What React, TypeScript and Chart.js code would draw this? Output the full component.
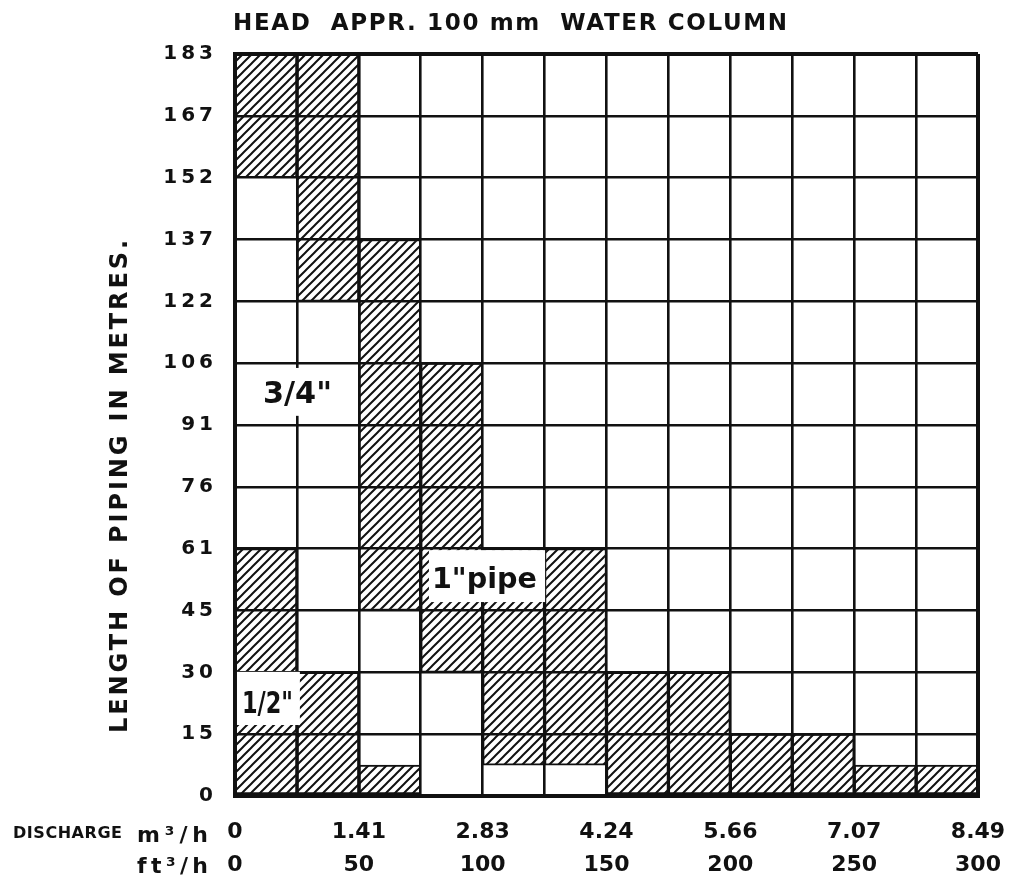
import React, { useEffect, useRef } from 'react';
import { Chart, registerables } from 'chart.js';

Chart.register(...registerables);

// ---- data ----
// Discharge columns in ft³/h (each column = 25 ft³/h)
const columnEdgesFt3 = [0, 25, 50, 75, 100, 125, 150, 175, 200, 225, 250, 275, 300];
const dischargeFt3Ticks = [0, 50, 100, 150, 200, 250, 300];
const dischargeFt3Labels = ['0', '50', '100', '150', '200', '250', '300'];
const dischargeM3Labels = ['0', '1.41', '2.83', '4.24', '5.66', '7.07', '8.49'];

// Length of piping (metres), grid every 50 ft = 15.24 m
const lengthTicksM = [0, 15.24, 30.48, 45.72, 60.96, 76.2, 91.44, 106.68, 121.92, 137.16, 152.4, 167.64, 182.88];
const lengthTickLabels = ['0', '15', '30', '45', '61', '76', '91', '106', '122', '137', '152', '167', '183'];

// Hatched bands per discharge column: [from m, to m]
const lowerHatchM: [number, number][] = [
  [0, 60.96],
  [0, 30.48],
  [0, 7.62],
  [30.48, 106.68],
  [7.62, 60.96],
  [7.62, 60.96],
  [0, 30.48],
  [0, 30.48],
  [0, 15.24],
  [0, 15.24],
  [0, 7.62],
  [0, 7.62],
];
const upperHatchM: ([number, number] | null)[] = [
  [152.4, 182.88],
  [121.92, 182.88],
  [45.72, 137.16],
  null, null, null, null, null, null, null, null, null,
];

// Pipe size labels (data coordinates)
const pipeSizeLabels = [
  { text: '3/4"', flowFt3: 25.2, lengthM: 99.7, boxFt3: [3.2, 48.9], boxM: [93.7, 105.5], size: 31, width: 69 },
  { text: '1"pipe', flowFt3: 100.7, lengthM: 53.9, boxFt3: [78.3, 125.2], boxM: [47.8, 60.6], size: 29, width: 105 },
  { text: '1/2"', flowFt3: 13.1, lengthM: 23.3, boxFt3: [0.8, 26.2], boxM: [17.5, 30.6], size: 31, width: 51 },
];

const chartTitle = 'HEAD  APPR. 100 mm  WATER COLUMN';
const yAxisTitle = 'LENGTH OF PIPING IN METRES.';

const INK = '#111';
const FONT = "'DejaVu Sans', sans-serif";

function makeHatch(): CanvasPattern | string {
  const s = 9;
  const c = document.createElement('canvas');
  c.width = s;
  c.height = s;
  const g = c.getContext('2d');
  if (!g) return '#888';
  g.fillStyle = '#fff';
  g.fillRect(0, 0, s, s);
  g.strokeStyle = INK;
  g.lineWidth = 2;
  g.beginPath();
  g.moveTo(-1, s + 1);
  g.lineTo(s + 1, -1);
  g.moveTo(-2, 2);
  g.lineTo(2, -2);
  g.moveTo(s - 2, s + 2);
  g.lineTo(s + 2, s - 2);
  g.stroke();
  return g.createPattern(c, 'repeat') || '#888';
}

function drawFitted(
  ctx: CanvasRenderingContext2D,
  text: string,
  x: number,
  capMidY: number,
  width: number,
  size: number,
  weight: string,
  align: 'left' | 'center' | 'right'
) {
  ctx.save();
  ctx.font = `${weight} ${size}px ${FONT}`;
  ctx.fillStyle = INK;
  ctx.textAlign = 'left';
  ctx.textBaseline = 'alphabetic';
  const a = ctx as any;
  const hasLS = 'letterSpacing' in a;
  if (hasLS) a.letterSpacing = '0px';
  const w0 = ctx.measureText(text).width;
  const left = align === 'center' ? x - width / 2 : align === 'right' ? x - width : x;
  const baseline = capMidY + size * 0.3645;
  if (w0 < width) {
    if (hasLS && text.length > 1) {
      a.letterSpacing = `${(width - w0) / (text.length - 1)}px`;
      ctx.fillText(text, left, baseline);
    } else {
      ctx.fillText(text, left + (width - w0) / 2, baseline);
    }
  } else {
    ctx.fillText(text, left, baseline, width);
  }
  ctx.restore();
}

const textPlugin = {
  id: 'chartTexts',
  afterDraw(chart: any) {
    const { ctx } = chart;
    const xs = chart.scales.x;
    const ys = chart.scales.y;

    // pipe size labels with white backing
    pipeSizeLabels.forEach((l) => {
      const x0 = xs.getPixelForValue(l.boxFt3[0]);
      const x1 = xs.getPixelForValue(l.boxFt3[1]);
      const y0 = ys.getPixelForValue(l.boxM[1]);
      const y1 = ys.getPixelForValue(l.boxM[0]);
      ctx.save();
      ctx.fillStyle = '#fff';
      ctx.fillRect(x0, y0, x1 - x0, y1 - y0);
      ctx.restore();
      drawFitted(ctx, l.text, xs.getPixelForValue(l.flowFt3), ys.getPixelForValue(l.lengthM), l.width, l.size, 'bold', 'center');
    });

    // top title
    drawFitted(ctx, chartTitle, 233, 21.7, 554, 23, 'bold', 'left');

    // y axis title (rotated)
    ctx.save();
    ctx.translate(118, 486.5);
    ctx.rotate(-Math.PI / 2);
    drawFitted(ctx, yAxisTitle, 0, 0, 493, 24, 'bold', 'center');
    ctx.restore();

    // discharge legend at left of x ticks
    drawFitted(ctx, 'DISCHARGE', 13, 832.5, 109, 16, 'bold', 'left');
    drawFitted(ctx, 'm³/h', 208, 834, 71, 22, 'bold', 'right');
    drawFitted(ctx, 'ft³/h', 208, 865, 71, 22, 'bold', 'right');
  },
};

export default function App() {
  const ref = useRef<HTMLCanvasElement>(null);

  useEffect(() => {
    const canvas = ref.current;
    if (!canvas) return;
    Chart.defaults.font.family = FONT;
    Chart.defaults.color = INK;
    const hatch = makeHatch();

    const centres = columnEdgesFt3.slice(0, -1).map((e, i) => (e + columnEdgesFt3[i + 1]) / 2);
    const lowerData = lowerHatchM.map((r, i) => ({ x: centres[i], y: r }));
    const upperData = upperHatchM
      .map((r, i) => (r ? { x: centres[i], y: r } : null))
      .filter((d) => d !== null);

    const barStyle = {
      backgroundColor: hatch,
      borderColor: INK,
      borderWidth: 2,
      borderSkipped: false,
      barPercentage: 1,
      categoryPercentage: 1,
      grouped: false,
    };

    const lastX = columnEdgesFt3.length - 1;
    const lastY = lengthTicksM.length - 1;

    const chart = new Chart(canvas, {
      type: 'bar',
      data: {
        datasets: [
          { label: 'hatched (lower)', data: lowerData as any, ...barStyle } as any,
          { label: 'hatched (upper)', data: upperData as any, ...barStyle } as any,
        ],
      },
      options: {
        responsive: false,
        animation: false,
        layout: { padding: { top: 54, right: 31, bottom: 0, left: 0 } },
        plugins: {
          legend: { display: false },
          tooltip: { enabled: false },
          title: { display: false },
        },
        scales: {
          x: {
            type: 'linear',
            min: 0,
            max: 300,
            offset: false,
            afterBuildTicks: (s: any) => {
              s.ticks = columnEdgesFt3.map((v) => ({ value: v }));
            },
            afterFit: (s: any) => {
              s.height = 80;
              s.paddingLeft = 0;
              s.paddingRight = 0;
            },
            grid: {
              color: INK,
              lineWidth: (c: any) => (c.index === 0 || c.index === lastX ? 4 : 2.6),
              drawTicks: false,
              offset: false,
              z: 1,
            },
            border: { display: true, color: INK, width: 4, z: 1 },
            ticks: {
              autoSkip: false,
              maxRotation: 0,
              minRotation: 0,
              padding: 20,
              color: INK,
              font: { family: FONT, size: 22, weight: 'bold', lineHeight: '33px' } as any,
              callback: (value: any) => {
                const i = dischargeFt3Ticks.indexOf(Number(value));
                return i < 0 ? '' : [dischargeM3Labels[i], dischargeFt3Labels[i]];
              },
            },
          },
          y: {
            type: 'linear',
            min: 0,
            max: 182.88,
            afterBuildTicks: (s: any) => {
              s.ticks = lengthTicksM.map((v) => ({ value: v }));
            },
            afterFit: (s: any) => {
              s.width = 235;
              s.paddingTop = 0;
              s.paddingBottom = 0;
            },
            grid: {
              color: INK,
              lineWidth: (c: any) => (c.index === 0 || c.index === lastY ? 4 : 2.6),
              drawTicks: false,
              z: 1,
            },
            border: { display: true, color: INK, width: 4, z: 1 },
            ticks: {
              autoSkip: false,
              padding: 22,
              color: INK,
              font: { family: FONT, size: 20, weight: 'bold' },
              callback: (_v: any, i: number) => (lengthTickLabels[i] || '').split('').join('\u2009'),
            },
          },
        },
      } as any,
      plugins: [textPlugin],
    });

    return () => chart.destroy();
  }, []);

  return (
    <div
      style={{
        position: 'absolute',
        left: 0,
        top: 0,
        width: 1009,
        height: 876,
        overflow: 'hidden',
        background: '#fff',
      }}
    >
      <canvas ref={ref} width={1009} height={876} style={{ display: 'block' }} />
    </div>
  );
}
